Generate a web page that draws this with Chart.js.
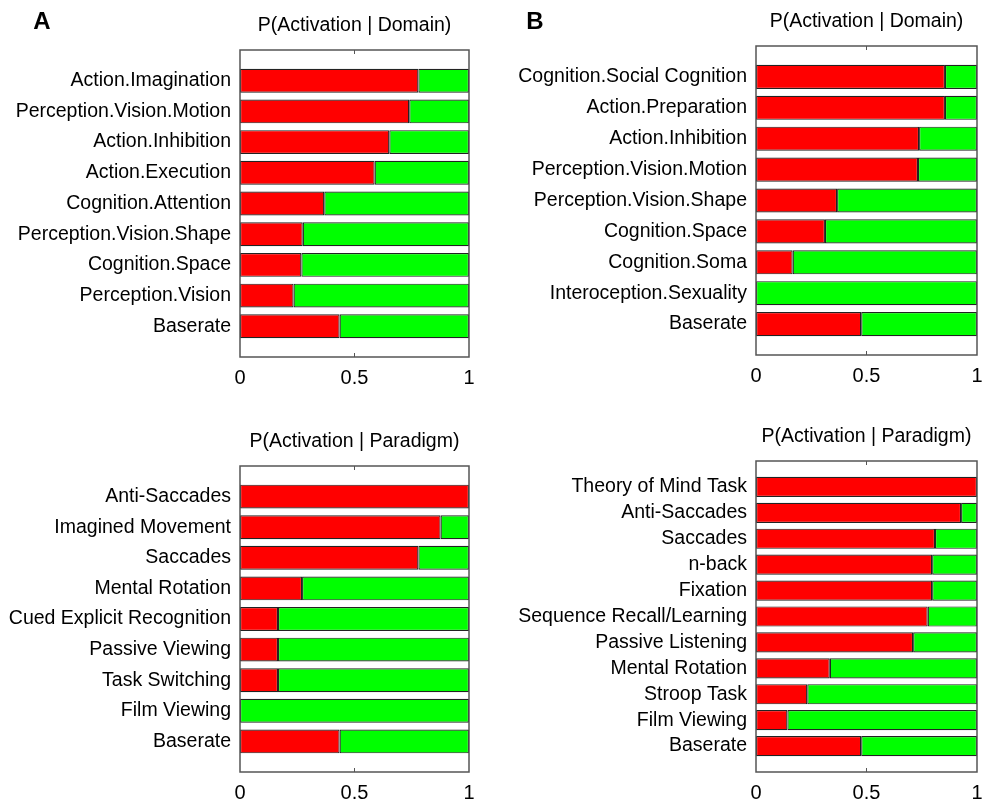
<!DOCTYPE html>
<html>
<head>
<meta charset="utf-8">
<script src="https://cdn.jsdelivr.net/npm/chart.js@4.4.1/dist/chart.umd.min.js"></script>
<style>
  html, body { margin: 0; padding: 0; background: #fff; }
  #page { position: relative; width: 987px; height: 801px; overflow: hidden; }
  .panel { position: absolute; }
</style>
</head>
<body>
<div id="page">
  <div class="panel" style="left:0;top:0;width:490px;height:400px"><canvas id="aDomain"></canvas></div>
  <div class="panel" style="left:490px;top:0;width:497px;height:400px"><canvas id="bDomain"></canvas></div>
  <div class="panel" style="left:0;top:400px;width:490px;height:401px"><canvas id="aParadigm"></canvas></div>
  <div class="panel" style="left:490px;top:400px;width:497px;height:401px"><canvas id="bParadigm"></canvas></div>
</div>
<script>
// panel A, domains
const domainA = ["Action.Imagination", "Perception.Vision.Motion", "Action.Inhibition", "Action.Execution",
  "Cognition.Attention", "Perception.Vision.Shape", "Cognition.Space", "Perception.Vision", "Baserate"];
const domainAVals = [0.779, 0.739, 0.652, 0.588, 0.368, 0.274, 0.268, 0.234, 0.435];

// panel B, domains
const domainB = ["Cognition.Social Cognition", "Action.Preparation", "Action.Inhibition", "Perception.Vision.Motion",
  "Perception.Vision.Shape", "Cognition.Space", "Cognition.Soma", "Interoception.Sexuality", "Baserate"];
const domainBVals = [0.855, 0.855, 0.738, 0.733, 0.367, 0.312, 0.166, 0, 0.476];

// panel A, paradigms
const paradigmA = ["Anti-Saccades", "Imagined Movement", "Saccades", "Mental Rotation", "Cued Explicit Recognition",
  "Passive Viewing", "Task Switching", "Film Viewing", "Baserate"];
const paradigmAVals = [1.0, 0.876, 0.779, 0.271, 0.166, 0.166, 0.166, 0, 0.435];

// panel B, paradigms
const paradigmB = ["Theory of Mind Task", "Anti-Saccades", "Saccades", "n-back", "Fixation", "Sequence Recall/Learning",
  "Passive Listening", "Mental Rotation", "Stroop Task", "Film Viewing", "Baserate"];
const paradigmBVals = [1.0, 0.928, 0.810, 0.797, 0.797, 0.777, 0.711, 0.334, 0.232, 0.142, 0.476];

const xTicks = [0, 0.5, 1];
const xTickLabels = ["0", "0.5", "1"];

const FONT = "'Liberation Sans', Arial, sans-serif";

// title, panel letter, box and the little inward ticks at 0.5
const frame = {
  id: "frame",
  afterDatasetsDraw(chart, args, opts) {
    const { ctx, chartArea: a, scales } = chart;
    ctx.save();
    ctx.strokeStyle = "#555";
    ctx.lineWidth = 1.5;
    ctx.strokeRect(a.left, a.top, a.right - a.left, a.bottom - a.top);
    ctx.lineWidth = 1;
    const px = scales.x.getPixelForValue(0.5);
    ctx.beginPath();
    ctx.moveTo(px, a.top); ctx.lineTo(px, a.top + 4);
    ctx.moveTo(px, a.bottom); ctx.lineTo(px, a.bottom - 4);
    ctx.stroke();

    ctx.fillStyle = "#000";
    ctx.textAlign = "center";
    ctx.textBaseline = "middle";
    ctx.font = "19.5px " + FONT;
    ctx.fillText(opts.title, (a.left + a.right) / 2, opts.titleY);
    if (opts.letter) {
      ctx.font = "bold 24px " + FONT;
      ctx.fillText(opts.letter, opts.letterX, 22);
    }
    ctx.restore();
  }
};

function panel(id, cats, vals, o) {
  const labels = ["", ...cats, ""];
  const red = [null, ...vals.map(v => v || null), null];
  const green = [null, ...vals.map(v => (1 - v) || null), null];
  const el = document.getElementById(id);
  const W = el.parentNode.clientWidth, H = el.parentNode.clientHeight;
  return new Chart(el, {
    type: "bar",
    plugins: [frame],
    data: {
      labels,
      datasets: [
        { data: red, backgroundColor: "#ff0000", borderColor: "#222", borderWidth: 1.2, borderSkipped: false },
        { data: green, backgroundColor: "#00ff00", borderColor: "#222", borderWidth: 1.2, borderSkipped: false }
      ]
    },
    options: {
      indexAxis: "y",
      responsive: true,
      maintainAspectRatio: false,
      animation: false,
      datasets: { bar: { categoryPercentage: 1, barPercentage: 0.78 } },
      layout: { padding: { top: o.top, right: W - o.right, bottom: 0, left: 0 } },
      plugins: {
        legend: { display: false },
        tooltip: { enabled: false },
        frame: { title: o.title, titleY: o.titleY, letter: o.letter, letterX: o.letterX }
      },
      scales: {
        x: {
          stacked: true, min: 0, max: 1,
          afterBuildTicks: s => { s.ticks = xTicks.map(v => ({ value: v })); },
          afterFit: s => { s.height = H - o.bottom; s.paddingLeft = 0; s.paddingRight = 0; },
          grid: { display: false, drawTicks: false },
          border: { display: false },
          ticks: {
            color: "#000", font: { size: 20, family: FONT }, padding: 9, maxRotation: 0,
            callback: (v, i) => xTickLabels[i]
          }
        },
        y: {
          stacked: true, offset: false,
          afterFit: s => { s.width = o.left; s.paddingTop = 0; s.paddingBottom = 0; },
          grid: { display: false, drawTicks: false },
          border: { display: false },
          ticks: { color: "#000", font: { size: 19.5, family: FONT }, padding: 9, autoSkip: false }
        }
      }
    }
  });
}

panel("aDomain", domainA, domainAVals,
  { left: 240, right: 469, top: 50, bottom: 357, title: "P(Activation | Domain)", titleY: 26, letter: "A", letterX: 42 });
panel("bDomain", domainB, domainBVals,
  { left: 266, right: 487, top: 46, bottom: 355, title: "P(Activation | Domain)", titleY: 22, letter: "B", letterX: 45 });
panel("aParadigm", paradigmA, paradigmAVals,
  { left: 240, right: 469, top: 66, bottom: 372, title: "P(Activation | Paradigm)", titleY: 42 });
panel("bParadigm", paradigmB, paradigmBVals,
  { left: 266, right: 487, top: 61, bottom: 372, title: "P(Activation | Paradigm)", titleY: 37 });
</script>
</body>
</html>
